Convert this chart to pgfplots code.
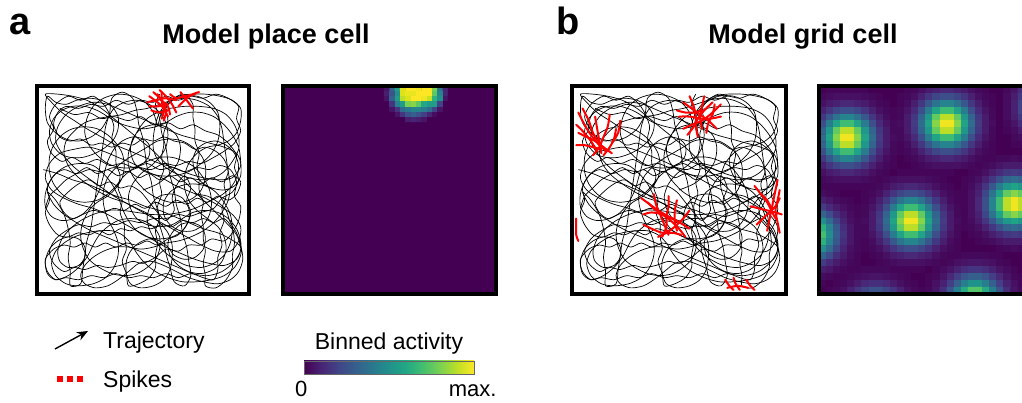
\documentclass[border=0pt]{standalone}
\usepackage{pgfplots}
\pgfplotsset{compat=1.18}
\usepackage{fontspec}
\setmainfont{Liberation Sans}
\usetikzlibrary{arrows.meta}
\definecolor{v0}{RGB}{68,1,84}
\definecolor{v1}{RGB}{72,36,117}
\definecolor{v2}{RGB}{65,68,135}
\definecolor{v3}{RGB}{53,95,141}
\definecolor{v4}{RGB}{42,120,142}
\definecolor{v5}{RGB}{33,145,140}
\definecolor{v6}{RGB}{34,168,132}
\definecolor{v7}{RGB}{68,191,112}
\definecolor{v8}{RGB}{122,209,81}
\definecolor{v9}{RGB}{189,223,38}
\definecolor{v10}{RGB}{253,231,37}
\pgfplotsset{
  box/.style={scale only axis, height=208pt, xtick=\empty, ytick=\empty,
    axis line style={line width=3.2pt}, axis on top},
  traj/.style={box, xmin=-1, xmax=101, ymin=-1, ymax=101},
  tline/.style={black, line width=0.7pt, smooth, no markers},
  spk/.style={red, line width=2pt, smooth, no markers, line cap=round},
  heat/.style={box, y dir=reverse, colormap/viridis, point meta min=0, point meta max=100,
    axis background/.style={fill=v0}},
}
\pgfplotstableread{
x y
50 50
57 53
63 58
67 64
68 71
66 77
61 81
55 82
49 80
45 75
44 69
46 63
51 59
58 57
65 57
72 59
78 63
83 68
86 74
87 81
86 88
82 93
76 96
69 96
63 93
59 88
57 82
55 88
51 93
45 96
38 97
31 95
26 91
23 85
22 78
24 72
28 67
33 63
39 61
45 61
50 63
53 67
53 72
50 75
45 76
40 74
36 70
33 64
31 57
29 50
26 44
22 39
17 36
11 35
6 37
3 42
3 48
5 54
9 59
14 62
20 63
26 62
31 58
35 53
38 47
40 41
43 35
47 30
52 27
58 26
64 27
69 30
72 35
72 41
69 46
64 48
58 47
54 43
52 37
53 31
56 25
60 20
65 16
71 13
78 12
84 14
89 18
92 24
93 31
92 38
89 44
85 49
80 52
74 53
68 52
63 49
60 44
60 38
63 33
68 30
74 30
79 33
82 38
83 44
82 50
79 56
75 61
70 64
64 66
58 66
52 64
46 61
41 57
37 52
33 48
28 45
22 44
16 45
11 48
7 53
5 59
5 66
7 72
11 77
16 80
22 81
28 80
33 77
37 73
40 68
41 62
40 56
37 51
33 47
28 44
24 40
21 34
20 28
21 22
24 16
29 12
35 9
41 8
47 9
52 12
56 16
58 21
58 27
55 32
50 35
44 36
38 35
33 32
29 28
26 23
23 17
19 12
14 8
8 6
4 9
3 15
5 21
9 25
14 27
19 26
22 22
22 17
19 13
14 12
10 15
9 20
11 26
15 31
20 35
26 38
33 40
40 40
47 39
54 38
61 38
68 39
75 41
81 44
87 47
92 51
95 56
96 62
94 68
90 72
85 74
80 73
76 70
74 65
75 59
78 54
83 51
89 50
94 52
97 57
97 64
96 71
93 77
89 82
84 86
78 88
72 88
66 86
61 83
56 81
50 80
44 81
38 83
33 86
28 89
22 91
16 91
11 89
7 85
5 79
6 73
10 68
15 66
21 66
27 68
32 71
36 75
38 80
38 86
35 91
30 94
24 95
18 94
13 92
8 93
4 96
3 90
4 83
8 78
13 75
19 74
25 76
30 80
33 85
36 90
41 93
47 94
53 92
58 88
61 83
62 77
61 71
58 66
54 62
49 58
45 53
43 47
44 41
47 36
52 33
58 32
64 33
69 36
74 39
80 40
86 39
91 36
95 31
97 25
97 18
94 12
89 8
83 6
76 5
69 5
62 7
56 10
51 14
47 19
44 24
40 28
35 30
29 30
23 29
17 27
12 24
8 20
6 14
8 8
13 4
19 3
26 4
32 7
36 12
38 18
38 24
36 30
33 36
31 43
31 50
33 56
37 61
42 65
47 68
52 71
57 74
63 75
69 74
74 71
78 67
80 62
80 56
78 50
74 46
69 44
63 44
57 46
52 49
48 53
45 57
43 62
43 68
45 74
48 80
52 85
57 88
63 90
70 91
77 91
84 90
90 87
94 82
96 76
96 70
93 64
89 59
84 56
78 55
72 56
66 58
61 61
57 65
55 70
55 76
56 82
58 88
62 93
67 96
73 97
80 97
87 96
93 94
97 90
97 84
95 78
91 74
86 72
81 71
76 68
72 63
70 57
70 51
72 45
76 40
81 36
86 32
89 27
90 21
88 15
84 11
78 9
72 10
67 13
63 18
62 24
64 29
68 33
73 34
78 32
80 27
79 21
75 17
70 16
65 18
62 22
58 25
53 26
48 24
44 20
42 15
42 9
44 4
49 2
55 3
60 6
63 11
64 17
64 23
62 29
58 34
53 38
47 41
41 44
35 46
29 49
23 53
18 57
14 62
12 68
13 74
17 79
22 83
28 85
34 86
40 87
46 89
52 90
58 92
64 94
70 95
76 94
82 91
86 86
88 80
89 73
90 66
91 59
92 52
91 45
88 39
84 34
79 30
73 27
67 25
61 24
55 22
49 21
43 22
37 22
31 20
26 17
22 13
20 8
22 4
27 2
33 3
38 6
43 10
48 14
54 15
60 13
66 10
72 7
79 5
86 4
92 6
96 10
98 16
97 23
95 29
92 34
90 40
86 44
81 47
75 48
}\trajtable
\pgfplotstableread{
x y
10 90
17 87
24 88
30 85
36 86
43 84
49 86
55 82
62 83
68 80
74 82
80 79
86 77
91 73
95 67
94 61
96 55
93 49
88 46
84 41
78 39
72 37
67 38
61 36
55 36
49 34
43 35
37 33
31 34
25 32
19 33
13 30
8 26
5 20
7 14
12 10
17 12
22 11
28 13
33 12
39 13
45 15
50 14
56 17
61 21
67 20
72 23
78 23
83 26
89 25
93 29
96 35
97 42
94 47
95 54
92 60
87 62
82 60
76 61
70 59
64 61
58 60
52 63
46 61
40 63
34 62
28 65
22 63
16 66
11 64
6 68
4 74
7 80
5 86
8 92
14 96
20 94
26 96
31 92
34 87
36 81
35 75
37 69
37 63
39 57
38 51
40 45
39 39
41 33
41 27
42 21
40 15
42 9
43 3
48 4
53 7
56 12
56 18
57 24
56 30
58 36
57 42
59 48
58 54
60 60
59 66
60 72
60 78
62 84
61 90
65 95
70 97
74 92
74 86
75 80
75 74
77 68
76 62
77 56
77 50
79 44
78 38
79 32
79 26
80 20
79 14
80 8
80 3
85 2
90 6
93 12
93 18
94 24
93 31
89 36
84 34
79 36
74 34
69 35
64 32
59 33
54 31
49 32
44 30
39 31
34 28
29 30
24 28
19 29
14 27
9 28
5 33
3 39
5 45
4 51
7 57
12 60
18 58
24 60
30 59
36 61
42 59
48 61
54 60
60 63
66 62
72 64
78 63
84 66
89 69
94 73
97 79
95 85
96 91
91 95
85 97
79 95
73 96
67 94
61 96
55 93
49 94
43 92
37 94
31 91
25 92
19 90
13 91
9 88
7 82
10 76
15 74
20 75
25 72
30 73
35 71
40 73
45 72
50 75
55 74
60 76
65 74
70 73
75 70
80 71
85 69
89 65
91 59
89 53
90 47
88 41
89 35
87 29
88 23
86 17
86 11
84 6
79 7
73 9
67 7
61 9
55 7
49 8
43 7
37 9
31 7
25 8
19 6
13 7
8 6
4 10
3 16
7 21
12 23
17 22
22 24
27 22
32 24
37 22
42 24
47 23
52 25
57 23
62 26
67 28
71 33
73 39
71 45
73 51
70 57
66 52
64 46
65 40
61 35
57 39
53 44
49 49
44 52
39 51
34 54
29 52
24 55
19 53
14 49
10 44
12 39
16 36
21 38
26 40
31 39
36 41
41 40
46 43
51 41
56 44
61 42
66 45
71 43
76 46
81 44
86 47
91 45
95 48
97 54
93 57
88 54
83 56
78 53
73 56
68 54
63 57
58 55
53 58
48 56
43 59
38 57
33 60
28 58
23 61
18 58
13 55
9 51
5 47
3 41
}\trajtableB
\pgfplotstableread{
x y
2 60
9 58
16 55
23 53
30 50
37 47
44 45
51 42
58 40
65 37
72 34
79 31
86 29
92 26
97 22
95 16
89 13
82 14
75 16
68 19
61 22
54 26
47 30
40 34
33 38
26 41
19 43
12 46
6 50
3 56
5 63
10 68
17 70
24 71
31 69
38 66
45 63
52 59
59 56
66 52
73 49
80 46
87 42
93 38
97 32
96 25
92 20
85 20
78 23
71 27
64 31
57 35
50 39
43 43
36 47
29 52
22 57
16 62
11 68
8 74
9 81
13 87
19 91
26 93
33 92
40 89
47 86
54 83
61 80
68 77
75 75
82 73
89 71
95 68
97 62
93 56
86 55
79 56
72 58
65 61
58 63
51 66
44 69
37 72
30 76
23 80
17 84
11 88
6 93
3 97
9 97
16 96
23 94
30 90
36 85
42 80
48 75
54 70
60 64
66 58
72 52
78 46
84 40
90 34
95 28
97 21
94 15
88 10
81 8
74 9
67 12
60 15
53 18
46 21
39 24
32 27
25 30
18 34
12 38
7 43
4 49
8 45
12 38
14 31
15 24
14 17
15 10
15 3
20 4
21 11
22 18
23 25
25 32
26 39
27 46
28 53
29 60
30 67
31 74
32 81
34 88
35 95
40 98
45 95
47 89
48 82
50 75
51 68
52 61
54 54
55 47
57 40
58 33
60 26
61 19
63 12
65 5
70 3
73 8
72 15
71 22
69 29
68 36
66 43
65 50
63 57
62 64
61 71
59 78
58 85
56 92
58 97
}\trajtableC
\begin{document}
\begin{tikzpicture}[x=1pt,y=1pt]
% ---------- panel a: trajectory ----------
\begin{axis}[traj, at={(37pt,109pt)}, anchor=south west, width=212pt]
\addplot[tline] table[x=x,y=y] {\trajtable};
\addplot[tline] table[x=x,y=y] {\trajtableB};
\addplot[tline] table[x=x,y=y] {\trajtableC};
\addplot[spk] coordinates {(53,96) (57,93) (60,90) (62,86)};
\addplot[spk] coordinates {(55,98) (58,95) (60,92) (61,88) (60,84)};
\addplot[spk] coordinates {(57,97) (59,94) (62,91) (63,87)};
\addplot[spk] coordinates {(52,93) (56,94) (61,95) (66,94)};
\addplot[spk] coordinates {(53,91) (57,91) (62,92)};
\addplot[spk] coordinates {(54,89) (58,88) (62,89)};
\addplot[spk] coordinates {(68,98) (71,94) (74,90)};
\addplot[spk] coordinates {(67,91) (70,94) (74,97) (77,98)};
\addplot[spk] coordinates {(63,97) (66,95) (70,96) (75,97)};
\addplot[spk] coordinates {(58,99) (61,96) (64,92) (66,88)};
\addplot[spk] coordinates {(59,98) (59,94) (60,89) (59,85)};
\end{axis}
% ---------- panel a: place map ----------
\begin{axis}[heat, at={(283pt,109pt)}, anchor=south west, width=213pt,
  xmin=-0.5, xmax=39.5, ymin=-0.5, ymax=39.5]
\addplot[matrix plot*, mesh/cols=13, point meta=explicit] coordinates {
(19,0)[5] (20,0)[30] (21,0)[55] (22,0)[95] (23,0)[100] (24,0)[100] (25,0)[98] (26,0)[100] (27,0)[100] (28,0)[80] (29,0)[40] (30,0)[10] (31,0)[0]
(19,1)[8] (20,1)[25] (21,1)[50] (22,1)[95] (23,1)[97] (24,1)[97] (25,1)[100] (26,1)[100] (27,1)[100] (28,1)[75] (29,1)[45] (30,1)[10] (31,1)[0]
(19,2)[5] (20,2)[30] (21,2)[55] (22,2)[90] (23,2)[95] (24,2)[100] (25,2)[100] (26,2)[98] (27,2)[92] (28,2)[65] (29,2)[50] (30,2)[5] (31,2)[0]
(19,3)[0] (20,3)[15] (21,3)[45] (22,3)[55] (23,3)[80] (24,3)[82] (25,3)[75] (26,3)[60] (27,3)[55] (28,3)[55] (29,3)[20] (30,3)[0] (31,3)[0]
(19,4)[0] (20,4)[5] (21,4)[15] (22,4)[35] (23,4)[40] (24,4)[45] (25,4)[45] (26,4)[42] (27,4)[35] (28,4)[20] (29,4)[5] (30,4)[0] (31,4)[0]
(19,5)[0] (20,5)[0] (21,5)[5] (22,5)[15] (23,5)[25] (24,5)[30] (25,5)[25] (26,5)[18] (27,5)[10] (28,5)[3] (29,5)[0] (30,5)[0] (31,5)[0]
(19,6)[0] (20,6)[0] (21,6)[0] (22,6)[0] (23,6)[8] (24,6)[10] (25,6)[8] (26,6)[5] (27,6)[0] (28,6)[0] (29,6)[0] (30,6)[0] (31,6)[0]
(19,7)[0] (20,7)[0] (21,7)[0] (22,7)[0] (23,7)[0] (24,7)[0] (25,7)[0] (26,7)[0] (27,7)[0] (28,7)[0] (29,7)[0] (30,7)[0] (31,7)[0]
};
\end{axis}
% ---------- panel b: trajectory ----------
\begin{axis}[traj, at={(572pt,109pt)}, anchor=south west, width=214pt]
\addplot[tline] table[x=x,y=y] {\trajtable};
\addplot[tline] table[x=x,y=y] {\trajtableB};
\addplot[tline] table[x=x,y=y] {\trajtableC};
\addplot[spk] coordinates {(2,88) (5,82) (8,77) (12,72)};
\addplot[spk] coordinates {(4,90) (7,84) (9,78) (12,73) (15,69)};
\addplot[spk] coordinates {(10,86) (11,80) (12,74) (13,68)};
\addplot[spk] coordinates {(17,87) (16,81) (14,76) (12,71) (9,67)};
\addplot[spk] coordinates {(2,78) (6,76) (10,74) (14,71) (18,68)};
\addplot[spk] coordinates {(1,72) (5,72) (9,71) (13,70)};
\addplot[spk] coordinates {(20,80) (19,75) (17,71) (14,67)};
\addplot[spk] coordinates {(1,82) (4,79) (8,74) (11,69)};
\addplot[spk] coordinates {(22,84) (21,78) (18,73)};
\addplot[spk] coordinates {(52,93) (56,90) (60,87) (64,84) (68,80)};
\addplot[spk] coordinates {(55,96) (57,91) (58,86) (58,81) (59,76)};
\addplot[spk] coordinates {(62,96) (61,91) (60,86) (61,80)};
\addplot[spk] coordinates {(50,86) (55,86) (60,85) (65,85) (70,86)};
\addplot[spk] coordinates {(52,80) (56,82) (61,84) (66,88) (70,92)};
\addplot[spk] coordinates {(63,78) (64,83) (66,87) (67,92)};
\addplot[spk] coordinates {(54,77) (57,81) (59,85) (62,89) (66,93)};
\addplot[spk] coordinates {(49,89) (53,88) (57,88) (61,89)};
\addplot[spk] coordinates {(32,46) (36,43) (40,40) (45,37) (50,34)};
\addplot[spk] coordinates {(33,38) (37,39) (42,38) (47,36) (52,33) (55,31)};
\addplot[spk] coordinates {(38,48) (39,43) (41,38) (43,33) (45,28)};
\addplot[spk] coordinates {(45,47) (45,42) (44,37) (44,32) (42,27)};
\addplot[spk] coordinates {(33,33) (37,31) (42,29) (47,29) (51,28)};
\addplot[spk] coordinates {(49,45) (48,40) (48,35) (49,30)};
\addplot[spk] coordinates {(35,44) (38,41) (42,38) (46,35) (50,31) (53,27)};
\addplot[spk] coordinates {(40,27) (44,29) (48,32) (52,36) (55,40)};
\addplot[spk] coordinates {(86,52) (89,48) (92,44) (94,40) (96,36)};
\addplot[spk] coordinates {(97,55) (96,50) (95,45) (94,40) (93,35) (92,30)};
\addplot[spk] coordinates {(84,42) (88,41) (92,40) (96,39) (99,38)};
\addplot[spk] coordinates {(87,33) (90,36) (93,39) (96,42) (98,46)};
\addplot[spk] coordinates {(98,50) (97,45) (96,40) (97,34) (98,29)};
\addplot[spk] coordinates {(89,48) (92,45) (94,41)};
\addplot[spk] coordinates {(1,36) (1,32) (1,28) (2,25)};
\addplot[spk] coordinates {(72,6) (74,3) (76,1)};
\addplot[spk] coordinates {(76,7) (77,4) (79,1)};
\addplot[spk] coordinates {(82,6) (84,3) (86,1)};
\addplot[spk] coordinates {(73,2) (78,3) (83,2)};
\end{axis}
% ---------- panel b: grid map ----------
\begin{axis}[heat, at={(819pt,109pt)}, anchor=south west, width=213pt,
  xmin=-0.5, xmax=29.5, ymin=-0.5, ymax=29.5]
\addplot[matrix plot*, mesh/cols=30, point meta=explicit] coordinates {
(0,0)[0] (1,0)[1] (2,0)[1] (3,0)[1] (4,0)[1] (5,0)[1] (6,0)[1] (7,0)[0] (8,0)[0] (9,0)[0] (10,0)[0] (11,0)[0] (12,0)[1] (13,0)[2] (14,0)[4] (15,0)[7] (16,0)[9] (17,0)[11] (18,0)[11] (19,0)[9] (20,0)[7] (21,0)[4] (22,0)[2] (23,0)[1] (24,0)[0] (25,0)[0] (26,0)[2] (27,0)[5] (28,0)[12] (29,0)[21]
(0,1)[2] (1,1)[3] (2,1)[4] (3,1)[4] (4,1)[4] (5,1)[4] (6,1)[3] (7,1)[2] (8,1)[1] (9,1)[0] (10,1)[0] (11,1)[1] (12,1)[2] (13,1)[4] (14,1)[9] (15,1)[15] (16,1)[21] (17,1)[24] (18,1)[24] (19,1)[21] (20,1)[15] (21,1)[9] (22,1)[4] (23,1)[2] (24,1)[1] (25,1)[0] (26,1)[3] (27,1)[8] (28,1)[16] (29,1)[30]
(0,2)[4] (1,2)[7] (2,2)[9] (3,2)[11] (4,2)[11] (5,2)[9] (6,2)[7] (7,2)[4] (8,2)[2] (9,2)[1] (10,2)[0] (11,2)[1] (12,2)[3] (13,2)[8] (14,2)[16] (15,2)[27] (16,2)[38] (17,2)[45] (18,2)[45] (19,2)[38] (20,2)[27] (21,2)[16] (22,2)[8] (23,2)[3] (24,2)[1] (25,2)[0] (26,2)[3] (27,2)[9] (28,2)[20] (29,2)[36]
(0,3)[9] (1,3)[15] (2,3)[21] (3,3)[24] (4,3)[24] (5,3)[21] (6,3)[15] (7,3)[9] (8,3)[4] (9,3)[2] (10,3)[1] (11,3)[2] (12,3)[5] (13,3)[12] (14,3)[24] (15,3)[41] (16,3)[58] (17,3)[69] (18,3)[69] (19,3)[58] (20,3)[41] (21,3)[24] (22,3)[12] (23,3)[5] (24,3)[2] (25,3)[0] (26,3)[3] (27,3)[9] (28,3)[20] (29,3)[36]
(0,4)[16] (1,4)[27] (2,4)[38] (3,4)[45] (4,4)[45] (5,4)[38] (6,4)[27] (7,4)[16] (8,4)[8] (9,4)[3] (10,4)[1] (11,4)[2] (12,4)[7] (13,4)[16] (14,4)[32] (15,4)[53] (16,4)[76] (17,4)[90] (18,4)[90] (19,4)[76] (20,4)[53] (21,4)[32] (22,4)[16] (23,4)[7] (24,4)[2] (25,4)[0] (26,4)[3] (27,4)[8] (28,4)[16] (29,4)[30]
(0,5)[24] (1,5)[41] (2,5)[58] (3,5)[69] (4,5)[69] (5,5)[58] (6,5)[41] (7,5)[24] (8,5)[12] (9,5)[5] (10,5)[2] (11,5)[3] (12,5)[7] (13,5)[17] (14,5)[35] (15,5)[58] (16,5)[82] (17,5)[98] (18,5)[98] (19,5)[82] (20,5)[58] (21,5)[35] (22,5)[17] (23,5)[7] (24,5)[3] (25,5)[0] (26,5)[2] (27,5)[5] (28,5)[12] (29,5)[21]
(0,6)[32] (1,6)[53] (2,6)[76] (3,6)[90] (4,6)[90] (5,6)[76] (6,6)[53] (7,6)[32] (8,6)[16] (9,6)[7] (10,6)[2] (11,6)[2] (12,6)[7] (13,6)[16] (14,6)[32] (15,6)[53] (16,6)[76] (17,6)[90] (18,6)[90] (19,6)[76] (20,6)[53] (21,6)[32] (22,6)[16] (23,6)[7] (24,6)[2] (25,6)[0] (26,6)[1] (27,6)[3] (28,6)[7] (29,6)[13]
(0,7)[35] (1,7)[58] (2,7)[82] (3,7)[98] (4,7)[98] (5,7)[82] (6,7)[58] (7,7)[35] (8,7)[17] (9,7)[7] (10,7)[3] (11,7)[2] (12,7)[5] (13,7)[12] (14,7)[24] (15,7)[41] (16,7)[58] (17,7)[69] (18,7)[69] (19,7)[58] (20,7)[41] (21,7)[24] (22,7)[12] (23,7)[5] (24,7)[2] (25,7)[0] (26,7)[0] (27,7)[2] (28,7)[3] (29,7)[6]
(0,8)[32] (1,8)[53] (2,8)[76] (3,8)[90] (4,8)[90] (5,8)[76] (6,8)[53] (7,8)[32] (8,8)[16] (9,8)[7] (10,8)[2] (11,8)[1] (12,8)[3] (13,8)[8] (14,8)[16] (15,8)[27] (16,8)[38] (17,8)[45] (18,8)[45] (19,8)[38] (20,8)[27] (21,8)[16] (22,8)[8] (23,8)[3] (24,8)[1] (25,8)[0] (26,8)[0] (27,8)[1] (28,8)[1] (29,8)[3]
(0,9)[24] (1,9)[41] (2,9)[58] (3,9)[69] (4,9)[69] (5,9)[58] (6,9)[41] (7,9)[24] (8,9)[12] (9,9)[5] (10,9)[2] (11,9)[1] (12,9)[2] (13,9)[4] (14,9)[9] (15,9)[15] (16,9)[21] (17,9)[24] (18,9)[24] (19,9)[21] (20,9)[15] (21,9)[9] (22,9)[4] (23,9)[2] (24,9)[1] (25,9)[0] (26,9)[0] (27,9)[0] (28,9)[0] (29,9)[0]
(0,10)[16] (1,10)[27] (2,10)[38] (3,10)[45] (4,10)[45] (5,10)[38] (6,10)[27] (7,10)[16] (8,10)[8] (9,10)[3] (10,10)[1] (11,10)[0] (12,10)[1] (13,10)[2] (14,10)[4] (15,10)[7] (16,10)[9] (17,10)[11] (18,10)[11] (19,10)[9] (20,10)[7] (21,10)[4] (22,10)[2] (23,10)[1] (24,10)[1] (25,10)[2] (26,10)[2] (27,10)[3] (28,10)[2] (29,10)[2]
(0,11)[9] (1,11)[15] (2,11)[21] (3,11)[24] (4,11)[24] (5,11)[21] (6,11)[15] (7,11)[9] (8,11)[4] (9,11)[2] (10,11)[1] (11,11)[0] (12,11)[0] (13,11)[1] (14,11)[2] (15,11)[3] (16,11)[4] (17,11)[4] (18,11)[4] (19,11)[4] (20,11)[3] (21,11)[2] (22,11)[1] (23,11)[2] (24,11)[3] (25,11)[5] (26,11)[7] (27,11)[7] (28,11)[7] (29,11)[5]
(0,12)[4] (1,12)[7] (2,12)[9] (3,12)[11] (4,12)[11] (5,12)[9] (6,12)[7] (7,12)[4] (8,12)[2] (9,12)[1] (10,12)[0] (11,12)[1] (12,12)[1] (13,12)[1] (14,12)[1] (15,12)[1] (16,12)[1] (17,12)[1] (18,12)[1] (19,12)[0] (20,12)[0] (21,12)[1] (22,12)[2] (23,12)[4] (24,12)[8] (25,12)[12] (26,12)[16] (27,12)[17] (28,12)[16] (29,12)[12]
(0,13)[2] (1,13)[3] (2,13)[4] (3,13)[4] (4,13)[4] (5,13)[4] (6,13)[3] (7,13)[2] (8,13)[1] (9,13)[2] (10,13)[3] (11,13)[4] (12,13)[4] (13,13)[4] (14,13)[4] (15,13)[3] (16,13)[2] (17,13)[1] (18,13)[0] (19,13)[0] (20,13)[1] (21,13)[2] (22,13)[4] (23,13)[9] (24,13)[16] (25,13)[24] (26,13)[32] (27,13)[35] (28,13)[32] (29,13)[24]
(0,14)[1] (1,14)[1] (2,14)[1] (3,14)[1] (4,14)[1] (5,14)[1] (6,14)[1] (7,14)[1] (8,14)[2] (9,14)[4] (10,14)[7] (11,14)[9] (12,14)[11] (13,14)[11] (14,14)[9] (15,14)[7] (16,14)[4] (17,14)[2] (18,14)[1] (19,14)[0] (20,14)[1] (21,14)[3] (22,14)[7] (23,14)[15] (24,14)[27] (25,14)[41] (26,14)[53] (27,14)[58] (28,14)[53] (29,14)[41]
(0,15)[3] (1,15)[2] (2,15)[1] (3,15)[0] (4,15)[0] (5,15)[0] (6,15)[1] (7,15)[2] (8,15)[4] (9,15)[9] (10,15)[15] (11,15)[21] (12,15)[24] (13,15)[24] (14,15)[21] (15,15)[15] (16,15)[9] (17,15)[4] (18,15)[2] (19,15)[1] (20,15)[1] (21,15)[4] (22,15)[9] (23,15)[21] (24,15)[38] (25,15)[58] (26,15)[76] (27,15)[82] (28,15)[76] (29,15)[58]
(0,16)[8] (1,16)[6] (2,16)[3] (3,16)[2] (4,16)[1] (5,16)[0] (6,16)[1] (7,16)[3] (8,16)[8] (9,16)[16] (10,16)[27] (11,16)[38] (12,16)[45] (13,16)[45] (14,16)[38] (15,16)[27] (16,16)[16] (17,16)[8] (18,16)[3] (19,16)[1] (20,16)[1] (21,16)[4] (22,16)[11] (23,16)[24] (24,16)[45] (25,16)[69] (26,16)[90] (27,16)[98] (28,16)[90] (29,16)[69]
(0,17)[17] (1,17)[12] (2,17)[7] (3,17)[4] (4,17)[2] (5,17)[1] (6,17)[2] (7,17)[5] (8,17)[12] (9,17)[24] (10,17)[41] (11,17)[58] (12,17)[69] (13,17)[69] (14,17)[58] (15,17)[41] (16,17)[24] (17,17)[12] (18,17)[5] (19,17)[2] (20,17)[1] (21,17)[4] (22,17)[11] (23,17)[24] (24,17)[45] (25,17)[69] (26,17)[90] (27,17)[98] (28,17)[90] (29,17)[69]
(0,18)[32] (1,18)[23] (2,18)[13] (3,18)[7] (4,18)[3] (5,18)[1] (6,18)[2] (7,18)[7] (8,18)[16] (9,18)[32] (10,18)[53] (11,18)[76] (12,18)[90] (13,18)[90] (14,18)[76] (15,18)[53] (16,18)[32] (17,18)[16] (18,18)[7] (19,18)[2] (20,18)[1] (21,18)[4] (22,18)[9] (23,18)[21] (24,18)[38] (25,18)[58] (26,18)[76] (27,18)[82] (28,18)[76] (29,18)[58]
(0,19)[49] (1,19)[35] (2,19)[21] (3,19)[10] (4,19)[4] (5,19)[2] (6,19)[3] (7,19)[7] (8,19)[17] (9,19)[35] (10,19)[58] (11,19)[82] (12,19)[98] (13,19)[98] (14,19)[82] (15,19)[58] (16,19)[35] (17,19)[17] (18,19)[7] (19,19)[3] (20,19)[1] (21,19)[3] (22,19)[7] (23,19)[15] (24,19)[27] (25,19)[41] (26,19)[53] (27,19)[58] (28,19)[53] (29,19)[41]
(0,20)[64] (1,20)[45] (2,20)[27] (3,20)[13] (4,20)[6] (5,20)[2] (6,20)[2] (7,20)[7] (8,20)[16] (9,20)[32] (10,20)[53] (11,20)[76] (12,20)[90] (13,20)[90] (14,20)[76] (15,20)[53] (16,20)[32] (17,20)[16] (18,20)[7] (19,20)[2] (20,20)[1] (21,20)[2] (22,20)[4] (23,20)[9] (24,20)[16] (25,20)[24] (26,20)[32] (27,20)[35] (28,20)[32] (29,20)[24]
(0,21)[70] (1,21)[49] (2,21)[29] (3,21)[15] (4,21)[6] (5,21)[2] (6,21)[2] (7,21)[5] (8,21)[12] (9,21)[24] (10,21)[41] (11,21)[58] (12,21)[69] (13,21)[69] (14,21)[58] (15,21)[41] (16,21)[24] (17,21)[12] (18,21)[5] (19,21)[2] (20,21)[0] (21,21)[1] (22,21)[2] (23,21)[4] (24,21)[8] (25,21)[12] (26,21)[16] (27,21)[17] (28,21)[16] (29,21)[12]
(0,22)[64] (1,22)[45] (2,22)[27] (3,22)[13] (4,22)[6] (5,22)[2] (6,22)[1] (7,22)[3] (8,22)[8] (9,22)[16] (10,22)[27] (11,22)[38] (12,22)[45] (13,22)[45] (14,22)[38] (15,22)[27] (16,22)[16] (17,22)[8] (18,22)[3] (19,22)[1] (20,22)[0] (21,22)[0] (22,22)[1] (23,22)[2] (24,22)[3] (25,22)[5] (26,22)[7] (27,22)[7] (28,22)[7] (29,22)[5]
(0,23)[49] (1,23)[35] (2,23)[21] (3,23)[10] (4,23)[4] (5,23)[2] (6,23)[1] (7,23)[2] (8,23)[4] (9,23)[9] (10,23)[15] (11,23)[21] (12,23)[24] (13,23)[24] (14,23)[21] (15,23)[15] (16,23)[9] (17,23)[4] (18,23)[2] (19,23)[1] (20,23)[0] (21,23)[0] (22,23)[0] (23,23)[0] (24,23)[0] (25,23)[1] (26,23)[2] (27,23)[3] (28,23)[2] (29,23)[2]
(0,24)[32] (1,24)[23] (2,24)[13] (3,24)[7] (4,24)[3] (5,24)[1] (6,24)[0] (7,24)[1] (8,24)[2] (9,24)[4] (10,24)[7] (11,24)[9] (12,24)[11] (13,24)[11] (14,24)[9] (15,24)[7] (16,24)[4] (17,24)[2] (18,24)[1] (19,24)[1] (20,24)[2] (21,24)[2] (22,24)[2] (23,24)[2] (24,24)[1] (25,24)[1] (26,24)[0] (27,24)[0] (28,24)[0] (29,24)[0]
(0,25)[17] (1,25)[12] (2,25)[7] (3,25)[4] (4,25)[2] (5,25)[1] (6,25)[0] (7,25)[0] (8,25)[1] (9,25)[2] (10,25)[3] (11,25)[4] (12,25)[4] (13,25)[4] (14,25)[4] (15,25)[3] (16,25)[2] (17,25)[1] (18,25)[2] (19,25)[4] (20,25)[5] (21,25)[6] (22,25)[6] (23,25)[5] (24,25)[4] (25,25)[2] (26,25)[1] (27,25)[0] (28,25)[0] (29,25)[0]
(0,26)[8] (1,26)[6] (2,26)[3] (3,26)[2] (4,26)[1] (5,26)[1] (6,26)[2] (7,26)[2] (8,26)[2] (9,26)[2] (10,26)[1] (11,26)[1] (12,26)[1] (13,26)[1] (14,26)[1] (15,26)[0] (16,26)[1] (17,26)[3] (18,26)[5] (19,26)[9] (20,26)[13] (21,26)[15] (22,26)[15] (23,26)[13] (24,26)[9] (25,26)[5] (26,26)[3] (27,26)[1] (28,26)[0] (29,26)[0]
(0,27)[3] (1,27)[2] (2,27)[1] (3,27)[1] (4,27)[2] (5,27)[3] (6,27)[4] (7,27)[5] (8,27)[5] (9,27)[4] (10,27)[3] (11,27)[2] (12,27)[1] (13,27)[0] (14,27)[0] (15,27)[1] (16,27)[2] (17,27)[5] (18,27)[11] (19,27)[18] (20,27)[26] (21,27)[30] (22,27)[30] (23,27)[26] (24,27)[18] (25,27)[11] (26,27)[5] (27,27)[2] (28,27)[1] (29,27)[0]
(0,28)[1] (1,28)[0] (2,28)[1] (3,28)[2] (4,28)[4] (5,28)[7] (6,28)[11] (7,28)[13] (8,28)[13] (9,28)[11] (10,28)[7] (11,28)[4] (12,28)[2] (13,28)[1] (14,28)[0] (15,28)[1] (16,28)[4] (17,28)[9] (18,28)[18] (19,28)[30] (20,28)[43] (21,28)[51] (22,28)[51] (23,28)[43] (24,28)[30] (25,28)[18] (26,28)[9] (27,28)[4] (28,28)[1] (29,28)[0]
(0,29)[0] (1,29)[1] (2,29)[2] (3,29)[4] (4,29)[9] (5,29)[15] (6,29)[21] (7,29)[25] (8,29)[25] (9,29)[21] (10,29)[15] (11,29)[9] (12,29)[4] (13,29)[2] (14,29)[1] (15,29)[2] (16,29)[5] (17,29)[13] (18,29)[26] (19,29)[43] (20,29)[61] (21,29)[73] (22,29)[73] (23,29)[61] (24,29)[43] (25,29)[26] (26,29)[13] (27,29)[5] (28,29)[2] (29,29)[0]
};
\end{axis}
% ---------- titles ----------
\node[anchor=base, inner sep=0, font=\fontsize{27}{32}\selectfont\bfseries] at (266,359) {Model place cell};
\node[anchor=base, inner sep=0, font=\fontsize{27}{32}\selectfont\bfseries] at (803,359) {Model grid cell};
\node[anchor=base west, inner sep=0, font=\fontsize{38}{44}\selectfont\bfseries] at (9,368) {a};
\node[anchor=base west, inner sep=0, font=\fontsize{38}{44}\selectfont\bfseries] at (556,368) {b};
% ---------- legend ----------
\draw[line width=1.4pt, -{Stealth[length=11pt,width=9pt]}] (55,54) -- (88,72);
\node[anchor=base west, inner sep=0, font=\fontsize{23}{27}\selectfont] at (103,54) {Trajectory};
\draw[red, line width=5.7pt, dash pattern=on 6pt off 4pt] (57.3,24.2) -- (83.5,24.2);
\node[anchor=base west, inner sep=0, font=\fontsize{23}{27}\selectfont] at (103,15.7) {Spikes};
\shade[left color=v0, right color=v1] (304,29) rectangle (321.2,42);
\shade[left color=v1, right color=v2] (321,29) rectangle (338.2,42);
\shade[left color=v2, right color=v3] (338,29) rectangle (355.2,42);
\shade[left color=v3, right color=v4] (355,29) rectangle (372.2,42);
\shade[left color=v4, right color=v5] (372,29) rectangle (389.2,42);
\shade[left color=v5, right color=v6] (389,29) rectangle (406.2,42);
\shade[left color=v6, right color=v7] (406,29) rectangle (423.2,42);
\shade[left color=v7, right color=v8] (423,29) rectangle (440.2,42);
\shade[left color=v8, right color=v9] (440,29) rectangle (457.2,42);
\shade[left color=v9, right color=v10] (457,29) rectangle (474,42);
\draw[black!60, line width=0.6pt] (304,29) rectangle (474,42);
\node[anchor=base, inner sep=0, font=\fontsize{23}{27}\selectfont] at (389,53.7) {Binned activity};
\node[anchor=base, inner sep=0, font=\fontsize{22}{26}\selectfont] at (301.3,6.3) {0};
\node[anchor=base east, inner sep=0, font=\fontsize{22}{26}\selectfont] at (496.7,6.3) {max.};
\pgfresetboundingbox
\path[use as bounding box] (0,0) rectangle (1022,403);
\end{tikzpicture}
\end{document}
